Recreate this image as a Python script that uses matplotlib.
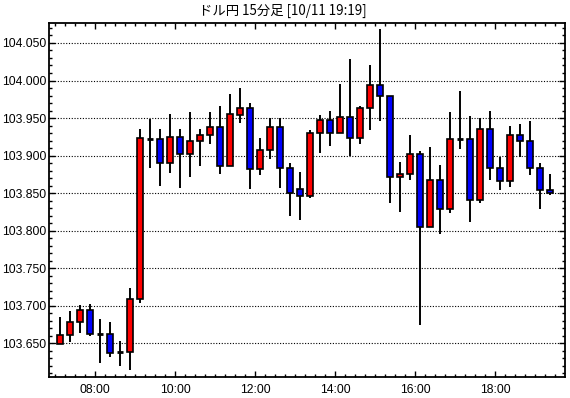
import matplotlib
matplotlib.use("Agg")
import matplotlib.pyplot as plt
from matplotlib.ticker import MultipleLocator, FixedLocator, FuncFormatter
import numpy as np

title = "ドル円 15分足 [10/11 19:19]"

times = ["07:00","07:15","07:30","07:45","08:00","08:15","08:30","08:45",
         "09:00","09:15","09:30","09:45","10:00","10:15","10:30","10:45",
         "11:00","11:15","11:30","11:45","12:00","12:15","12:30","12:45",
         "13:00","13:15","13:30","13:45","14:00","14:15","14:30","14:45",
         "15:00","15:15","15:30","15:45","16:00","16:15","16:30","16:45",
         "17:00","17:15","17:30","17:45","18:00","18:15","18:30","18:45",
         "19:00","19:15"]

opens = [103.649,103.661,103.678,103.695,103.662,103.663,103.638,103.638,103.709,103.922,
         103.922,103.890,103.925,103.902,103.919,103.927,103.938,103.886,103.954,103.964,
         103.882,103.907,103.938,103.884,103.856,103.846,103.930,103.947,103.930,103.951,
         103.923,103.963,103.994,103.979,103.872,103.876,103.902,103.805,103.868,103.829,
         103.922,103.922,103.841,103.935,103.883,103.866,103.927,103.919,103.883,103.854]
highs = [103.685,103.693,103.701,103.702,103.682,103.678,103.653,103.723,103.935,103.949,
         103.935,103.956,103.936,103.958,103.935,103.958,103.966,103.982,103.990,103.970,
         103.924,103.950,103.950,103.890,103.878,103.934,103.954,103.959,103.995,104.028,
         103.966,104.021,104.068,103.979,103.892,103.927,103.906,103.911,103.888,103.958,
         103.986,103.953,103.950,103.959,103.898,103.940,103.942,103.946,103.890,103.875]
lows = [103.649,103.652,103.664,103.660,103.624,103.632,103.620,103.614,103.704,103.884,
        103.860,103.877,103.857,103.871,103.886,103.916,103.876,103.886,103.943,103.855,
        103.874,103.896,103.857,103.820,103.814,103.843,103.904,103.913,103.930,103.900,
        103.916,103.934,103.946,103.837,103.825,103.867,103.675,103.805,103.796,103.823,
        103.909,103.812,103.837,103.868,103.854,103.858,103.898,103.874,103.829,103.847]
closes = [103.661,103.678,103.695,103.662,103.662,103.637,103.638,103.709,103.923,103.922,
          103.890,103.925,103.902,103.919,103.927,103.938,103.886,103.955,103.964,103.882,
          103.907,103.938,103.884,103.850,103.846,103.930,103.947,103.930,103.951,103.923,
          103.963,103.994,103.979,103.872,103.876,103.902,103.805,103.868,103.829,103.922,
          103.922,103.841,103.935,103.883,103.866,103.927,103.919,103.883,103.854,103.850]

xtick_labels = ["08:00", "10:00", "12:00", "14:00", "16:00", "18:00"]

# ---- figure ----
W, H = 570, 398
fig = plt.figure(figsize=(W / 100, H / 100), dpi=100)
left_px, right_px, top_px, bottom_px = 49.3, 564.7, 22.7, 377.3
ax = fig.add_axes([left_px / W, 1 - bottom_px / H, (right_px - left_px) / W, (bottom_px - top_px) / H])

def to_hours(t):
    h, m = t.split(":")
    return int(h) + int(m) / 60.0

# candle centre = middle of its 15-minute interval
x = np.array([to_hours(t) + 0.125 for t in times])
o = np.array(opens); c = np.array(closes); hi = np.array(highs); lo = np.array(lows)

body_w = 0.165
ax.vlines(x, lo, hi, color="black", linewidth=1.4, zorder=2)
for xi, oi, ci in zip(x, o, c):
    if abs(ci - oi) < 0.0015:
        ax.hlines(oi, xi - body_w / 2, xi + body_w / 2, color="black", linewidth=2.0, zorder=3)
    else:
        col = "#ff0000" if ci > oi else "#0000ff"
        ax.bar(xi, abs(ci - oi), bottom=min(oi, ci), width=body_w, color=col,
               edgecolor="black", linewidth=1.2, zorder=3)

ax.set_xlim(6.8575, 19.7425)
ax.set_ylim(103.6047, 104.077)

# grid
for gv in np.arange(103.65, 104.0501, 0.05):
    ax.axhline(gv, color="black", linewidth=0.8, linestyle=(0, (1, 1.5)), zorder=1)

# ticks
major_x = [to_hours(t) for t in xtick_labels]
ax.xaxis.set_major_locator(FixedLocator(major_x))
ax.set_xticklabels(xtick_labels)
ax.xaxis.set_minor_locator(MultipleLocator(0.25))
ax.yaxis.set_major_locator(MultipleLocator(0.05))
ax.yaxis.set_minor_locator(MultipleLocator(0.01))
ax.yaxis.set_major_formatter(FuncFormatter(lambda v, p: f"{v:.3f}"))

ax.tick_params(which="both", direction="in", top=True, right=True, width=1.0, color="black")
ax.tick_params(which="major", length=4.5)
ax.tick_params(which="minor", length=2.5)
ax.tick_params(axis="both", labelsize=8.7, pad=2)
for lab in ax.get_xticklabels() + ax.get_yticklabels():
    lab.set_family(["Liberation Sans", "DejaVu Sans"])
ax.tick_params(axis="x", pad=5)

for s in ax.spines.values():
    s.set_linewidth(1.3)
    s.set_color("black")

fig.text(283 / W, 1 - 11 / H, title, ha="center", va="center", fontsize=9.6,
         family=["Noto Sans CJK JP", "DejaVu Sans"])

fig.savefig("out.png", dpi=100, facecolor="white")
